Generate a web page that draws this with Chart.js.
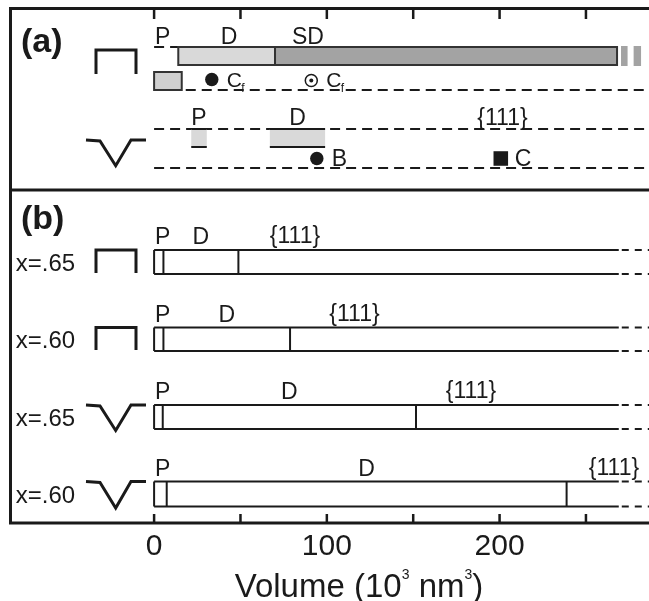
<!DOCTYPE html>
<html lang="en">
<head>
    <meta charset="UTF-8">
    <title>Pit growth stages vs volume</title>
    <script src="https://cdn.jsdelivr.net/npm/chart.js@4.4.3/dist/chart.umd.min.js"></script>
    <style>
        html, body { margin: 0; padding: 0; background: #fff; }
        canvas { display: block; }
    </style>
</head>
<body>
    <canvas id="pitChart" width="649" height="601"></canvas>
    <script>
        // ---- data (volume in 10^3 nm^3) ----
        const xTicks = [0, 50, 100, 150, 200, 250];

        // panel (a), flat-bottom pit: P dashed, D light bar, SD dark bar
        const aFlatStages = ['P', 'D', 'SD'];
        const aFlatStart = [0, 14, 70];
        const aFlatEnd = [14, 70, 268];
        const aFlatTail = [[270.3, 274.1], [277.6, 281.9]];
        const aFlatSmallBox = [0, 16];
        const cfFilled = [33.4];
        const cfDotted = [91];

        // panel (a), V-shaped pit
        const aVStages = ['P', 'D'];
        const aVStart = [21.5, 67];
        const aVEnd = [30.5, 99];
        const markerB = [94.2];
        const markerC = [200.7];

        // panel (b)
        const bRowLabels = ['x=.65', 'x=.60', 'x=.65', 'x=.60'];
        const bRowShapes = ['flat', 'flat', 'v', 'v'];
        const bPEnd = [5.4, 5.4, 5, 7.3];
        const bDEnd = [48.8, 78.7, 151.6, 238.8];
        const bBarEnd = 269;

        // ---- layout (y runs on the y scale, 7 at top .. 523 at bottom) ----
        const FONT = '"Liberation Sans", Arial, Helvetica, sans-serif';
        const INK = '#1a1a1a';
        const LIGHT = '#d9d9d9';
        const DARK = '#a3a3a3';
        const ROW = {
            a1Top: 47, a1Bot: 65, a1BoxTop: 72, a1BoxBot: 90, a1Mark: 79.5,
            a2Top: 129, a2Bot: 147, a2Base: 168, a2Mark: 158.5,
            divider: 190,
            b: [[250, 274], [327.5, 351], [405, 429], [481.5, 506.5]]
        };
        const b111X = [295, 354.5, 471, 614];

        const ctx = document.getElementById('pitChart').getContext('2d');

        function hline(c, x0, x1, y, dashed, width) {
            c.save();
            c.beginPath();
            c.lineWidth = width || 2;
            c.strokeStyle = INK;
            c.setLineDash(dashed ? [10, 6] : []);
            c.moveTo(x0, y);
            c.lineTo(x1, y);
            c.stroke();
            c.restore();
        }

        function vline(c, x, y0, y1) {
            c.beginPath();
            c.lineWidth = 2;
            c.strokeStyle = INK;
            c.moveTo(x, y0);
            c.lineTo(x, y1);
            c.stroke();
        }

        function flatIcon(c, top, bot) {
            c.save();
            c.beginPath();
            c.lineWidth = 3;
            c.strokeStyle = INK;
            c.moveTo(96, bot);
            c.lineTo(96, top);
            c.lineTo(136, top);
            c.lineTo(136, bot);
            c.stroke();
            c.restore();
        }

        function vIcon(c, top, tip) {
            c.save();
            c.beginPath();
            c.lineWidth = 3;
            c.strokeStyle = INK;
            c.moveTo(86, top);
            c.lineTo(100, top + 1);
            c.lineTo(115.7, tip);
            c.lineTo(131, top);
            c.lineTo(146, top);
            c.stroke();
            c.restore();
        }

        function text(c, s, x, y, size, align, bold) {
            c.font = (bold ? 'bold ' : '') + size + 'px ' + FONT;
            c.textAlign = align || 'center';
            c.textBaseline = 'alphabetic';
            c.fillStyle = INK;
            c.fillText(s, x, y);
        }

        const schematic = {
            id: 'schematic',
            beforeDatasetsDraw(chart) {
                const c = chart.ctx, ca = chart.chartArea;
                const X = v => chart.scales.x.getPixelForValue(v);
                const Y = v => chart.scales.y.getPixelForValue(v);

                // (a) flat pit row
                hline(c, X(aFlatStart[0]), X(aFlatEnd[0]), Y(ROW.a1Top), true);
                for (let i = 1; i < aFlatStages.length; i++) {
                    c.fillStyle = i === 1 ? LIGHT : DARK;
                    c.fillRect(X(aFlatStart[i]), Y(ROW.a1Top), X(aFlatEnd[i]) - X(aFlatStart[i]), Y(ROW.a1Bot) - Y(ROW.a1Top));
                    c.lineWidth = 2;
                    c.strokeStyle = '#333';
                    c.strokeRect(X(aFlatStart[i]), Y(ROW.a1Top), X(aFlatEnd[i]) - X(aFlatStart[i]), Y(ROW.a1Bot) - Y(ROW.a1Top));
                }
                aFlatTail.forEach(([s, e]) => {
                    c.fillStyle = DARK;
                    c.fillRect(X(s), Y(ROW.a1Top) - 1, X(e) - X(s), Y(ROW.a1Bot) - Y(ROW.a1Top) + 2);
                });
                c.fillStyle = '#d0d0d0';
                c.fillRect(X(aFlatSmallBox[0]), Y(ROW.a1BoxTop), X(aFlatSmallBox[1]) - X(aFlatSmallBox[0]), Y(ROW.a1BoxBot) - Y(ROW.a1BoxTop));
                c.lineWidth = 2;
                c.strokeStyle = '#333';
                c.strokeRect(X(aFlatSmallBox[0]), Y(ROW.a1BoxTop), X(aFlatSmallBox[1]) - X(aFlatSmallBox[0]), Y(ROW.a1BoxBot) - Y(ROW.a1BoxTop));
                hline(c, X(aFlatSmallBox[1]) + 4, ca.right, Y(ROW.a1BoxBot), true);

                // (a) V pit row
                hline(c, X(0), ca.right, Y(ROW.a2Top), true);
                for (let i = 0; i < aVStages.length; i++) {
                    c.fillStyle = LIGHT;
                    c.fillRect(X(aVStart[i]), Y(ROW.a2Top), X(aVEnd[i]) - X(aVStart[i]), Y(ROW.a2Bot) - Y(ROW.a2Top));
                    hline(c, X(aVStart[i]), X(aVEnd[i]), Y(ROW.a2Top), false);
                    hline(c, X(aVStart[i]), X(aVEnd[i]), Y(ROW.a2Bot), false);
                }
                hline(c, X(0), ca.right, Y(ROW.a2Base), true);

                // (b) rows
                ROW.b.forEach(([top, bot], i) => {
                    const yt = Y(top), yb = Y(bot);
                    hline(c, X(0), X(bBarEnd), yt, false);
                    hline(c, X(0), X(bBarEnd), yb, false);
                    vline(c, X(0), yt, yb);
                    vline(c, X(bPEnd[i]), yt, yb);
                    vline(c, X(bDEnd[i]), yt, yb);
                    c.save();
                    c.beginPath();
                    c.lineWidth = 2;
                    c.strokeStyle = INK;
                    c.setLineDash([7, 6]);
                    [yt, yb].forEach(yy => { c.moveTo(X(bBarEnd) + 3, yy); c.lineTo(ca.right, yy); });
                    c.stroke();
                    c.restore();
                });
            },
            afterDraw(chart) {
                const c = chart.ctx, ca = chart.chartArea;
                const X = v => chart.scales.x.getPixelForValue(v);
                const Y = v => chart.scales.y.getPixelForValue(v);

                // frame and divider
                c.save();
                c.lineWidth = 3;
                c.strokeStyle = INK;
                c.beginPath();
                c.moveTo(ca.right + 5, ca.top + 1.5);
                c.lineTo(ca.left + 1.5, ca.top + 1.5);
                c.lineTo(ca.left + 1.5, ca.bottom);
                c.lineTo(ca.right + 5, ca.bottom);
                c.moveTo(ca.left, Y(ROW.divider));
                c.lineTo(ca.right + 5, Y(ROW.divider));
                c.stroke();

                // inward ticks, top and bottom
                c.lineWidth = 2.5;
                c.beginPath();
                xTicks.forEach(v => {
                    c.moveTo(X(v), ca.top + 1);
                    c.lineTo(X(v), ca.top + 12);
                    c.moveTo(X(v), ca.bottom);
                    c.lineTo(X(v), ca.bottom - 9);
                });
                c.stroke();
                c.restore();

                // panel tags
                text(c, '(a)', 21, 52, 34, 'left', true);
                text(c, '(b)', 21, 229, 34, 'left', true);

                // pit icons
                flatIcon(c, Y(ROW.a1Top) + 3, Y(ROW.a1Top) + 27);
                vIcon(c, Y(140), Y(165.7));
                ROW.b.forEach(([top, bot], i) => {
                    if (bRowShapes[i] === 'flat') flatIcon(c, Y(top), Y(bot) - 1);
                    else vIcon(c, Y(top), Y(bot) + 1.5);
                    text(c, bRowLabels[i], 45.5, (Y(top) + Y(bot)) / 2 + 8.5, 24, 'center');
                });

                // (a) labels
                text(c, aFlatStages[0], X(0) + 1, 44.3, 23, 'left');
                text(c, aFlatStages[1], 229, 44.3, 23, 'center');
                text(c, aFlatStages[2], 308, 44.3, 23, 'center');
                text(c, aVStages[0], X((aVStart[0] + aVEnd[0]) / 2), 125, 23, 'center');
                text(c, aVStages[1], X((aVStart[1] + aVEnd[1]) / 2), 125, 23, 'center');
                text(c, '{111}', 502.5, 125, 23, 'center');
                [cfFilled[0], cfDotted[0]].forEach(v => {
                    const lx = X(v) + 15;
                    text(c, 'C', lx, 86.5, 21, 'left');
                    text(c, 'f', lx + 14.5, 92, 12, 'left');
                });
                text(c, 'B', X(markerB[0]) + 15, 165.5, 23, 'left');
                text(c, 'C', X(markerC[0]) + 14, 165.5, 23, 'left');

                // (b) labels
                ROW.b.forEach(([top], i) => {
                    const base = Y(top) - 6;
                    text(c, 'P', X(0) + 1, base, 23, 'left');
                    text(c, 'D', X((bPEnd[i] + bDEnd[i]) / 2), base, 23, 'center');
                    text(c, '{111}', b111X[i], base - 1, 23, 'center');
                });

                // axis title with raised exponents
                const parts = [['Volume (10', 33, 0], ['3', 14, -18], [' nm', 33, 0], ['3', 14, -18], [')', 33, 0]];
                let w = 0;
                parts.forEach(p => { c.font = p[1] + 'px ' + FONT; w += c.measureText(p[0]).width; });
                let px = 359 - w / 2;
                parts.forEach(p => {
                    text(c, p[0], px, 597 + p[2], p[1], 'left');
                    c.font = p[1] + 'px ' + FONT;
                    px += c.measureText(p[0]).width;
                });
            }
        };

        new Chart(ctx, {
            type: 'scatter',
            data: {
                datasets: [
                    { data: cfFilled.map(v => ({ x: v, y: ROW.a1Mark })), pointStyle: 'circle', radius: 6.7, backgroundColor: INK, borderColor: INK, borderWidth: 0 },
                    { data: cfDotted.map(v => ({ x: v, y: ROW.a1Mark + 1 })), pointStyle: 'circle', radius: 2, backgroundColor: INK, borderWidth: 0 },
                    { data: cfDotted.map(v => ({ x: v, y: ROW.a1Mark + 1 })), pointStyle: 'circle', radius: 6, backgroundColor: '#fff', borderColor: INK, borderWidth: 1.5 },
                    { data: markerB.map(v => ({ x: v, y: ROW.a2Mark })), pointStyle: 'circle', radius: 6.7, backgroundColor: INK, borderWidth: 0 },
                    { data: markerC.map(v => ({ x: v, y: ROW.a2Mark })), pointStyle: 'rect', radius: 10.3, backgroundColor: INK, borderWidth: 0 }
                ]
            },
            options: {
                responsive: false,
                animation: false,
                events: [],
                layout: { autoPadding: false, padding: { left: 9, top: 7, right: 0, bottom: 30 } },
                plugins: {
                    legend: { display: false },
                    tooltip: { enabled: false }
                },
                scales: {
                    x: {
                        type: 'linear',
                        min: -84,
                        max: 286.5,
                        afterBuildTicks: scale => { scale.ticks = xTicks.map(v => ({ value: v })); },
                        grid: { display: false, drawTicks: false },
                        border: { display: false },
                        ticks: {
                            color: INK,
                            padding: 6,
                            autoSkip: false,
                            maxRotation: 0,
                            font: { size: 30, family: FONT },
                            callback: v => (v % 100 === 0 ? String(v) : '')
                        }
                    },
                    y: { type: 'linear', min: 7, max: 523, reverse: true, display: false }
                }
            },
            plugins: [schematic]
        });
    </script>
</body>
</html>
